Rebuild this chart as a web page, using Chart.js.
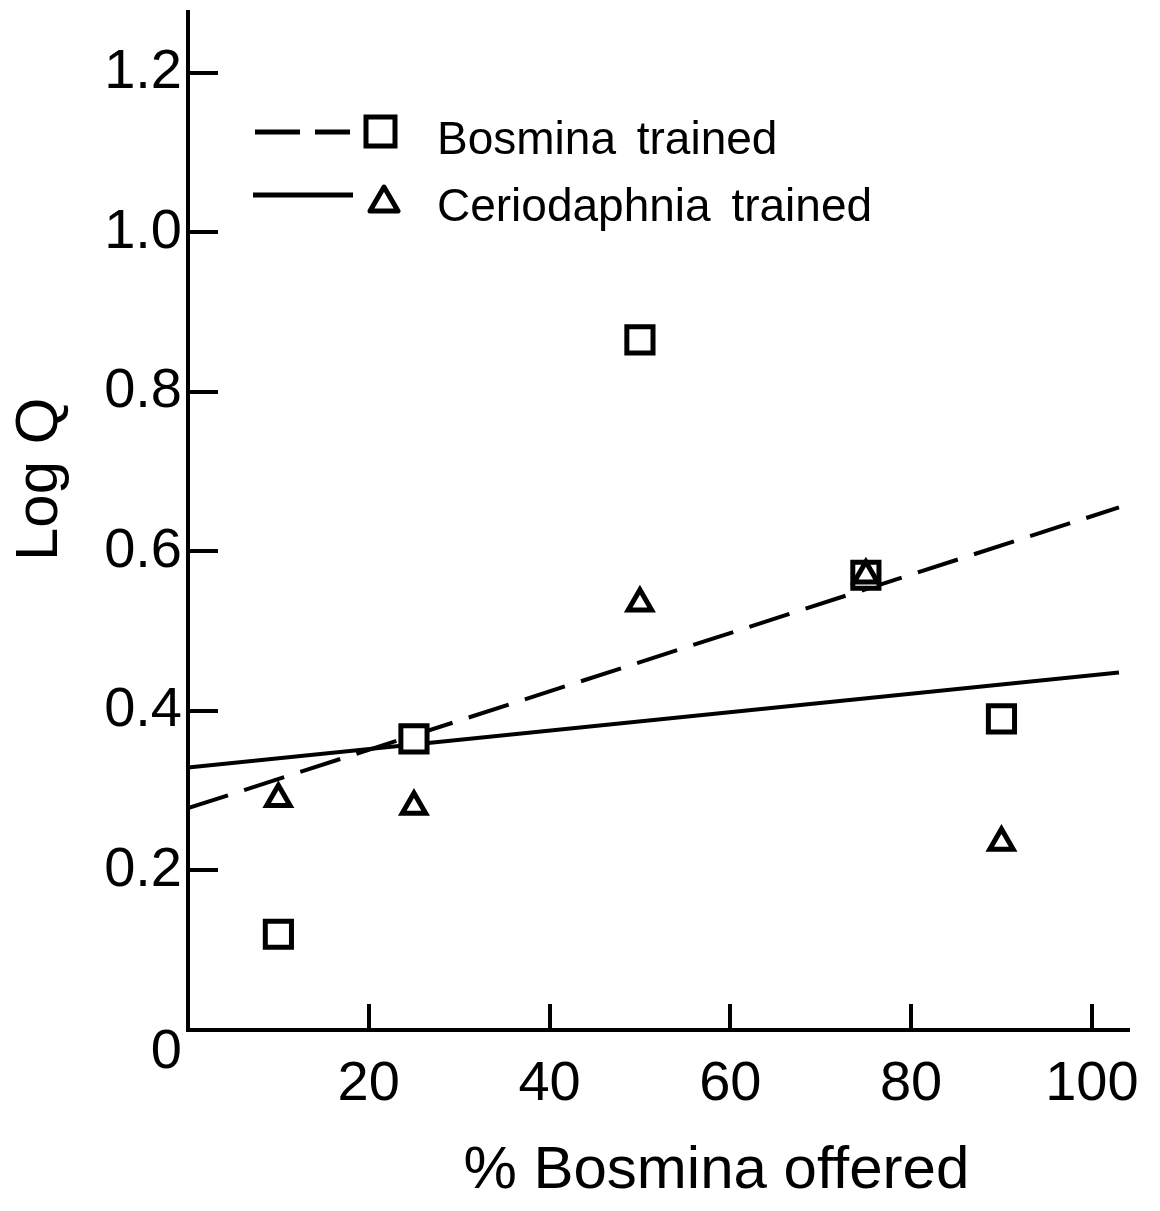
<!DOCTYPE html>
<html>
<head>
<meta charset="utf-8">
<script src="https://cdn.jsdelivr.net/npm/chart.js@4.4.1/dist/chart.umd.min.js"></script>
<style>
  html, body { margin: 0; padding: 0; background: #fff; }
  #wrap { position: relative; width: 1160px; height: 1211px; }
  #chart { position: absolute; left: 0; top: 0; }
  .key { position: absolute; }
  .key-text {
    position: absolute; left: 437px;
    font-family: "Liberation Sans", Arial, sans-serif;
    font-size: 46px; line-height: 1; color: #000;
    white-space: nowrap; word-spacing: 8px;
  }
</style>
</head>
<body>
<div id="wrap">
  <canvas id="chart" width="1160" height="1211"></canvas>

  <!-- legend, drawn over the chart area like in the printed figure -->
  <svg class="key" style="left:250px; top:107px" width="160" height="115">
    <line x1="5" y1="25" x2="100" y2="25" stroke="#000" stroke-width="5" stroke-dasharray="45 15"/>
    <rect x="116" y="10" width="29" height="29" fill="#fff" stroke="#000" stroke-width="5"/>
    <line x1="3" y1="88" x2="103" y2="88" stroke="#000" stroke-width="5"/>
    <polygon points="134,80 148,104 120,104" fill="#fff" stroke="#000" stroke-width="5" stroke-linejoin="round"/>
  </svg>
  <div class="key-text" style="top:115px">Bosmina trained</div>
  <div class="key-text" style="top:182px">Ceriodaphnia trained</div>
</div>

<script>
// % Bosmina offered (x) for each trial
const pctOffered = [10, 25, 50, 75, 90];

// Log Q
const bosminaLogQ = [0.12, 0.365, 0.865, 0.57, 0.39];
const cerioLogQ = [0.29, 0.28, 0.535, 0.57, 0.235];

// fitted regression lines, start and end
const fitX = [0, 103];
const bosminaFit = [0.278, 0.655];
const cerioFit = [0.329, 0.448];

const FONT = "'Liberation Sans', Arial, sans-serif";

function toPoints(xs, ys) {
  return xs.map((x, i) => ({ x: x, y: ys[i] }));
}

new Chart(document.getElementById("chart"), {
  data: {
    datasets: [
      {
        type: "scatter",
        label: "Ceriodaphnia trained",
        data: toPoints(pctOffered, cerioLogQ),
        pointStyle: "triangle",
        pointRadius: 13.5,
        borderWidth: 5,
        borderColor: "#000",
        backgroundColor: "#fff",
        order: 0
      },
      {
        type: "scatter",
        label: "Bosmina trained",
        data: toPoints(pctOffered, bosminaLogQ),
        pointStyle: "rect",
        pointRadius: 18.5,
        borderWidth: 5,
        borderColor: "#000",
        backgroundColor: "#fff",
        order: 1
      },
      {
        type: "line",
        label: "Bosmina fit",
        data: toPoints(fitX, bosminaFit),
        borderColor: "#000",
        borderWidth: 4,
        borderDash: [42, 17],
        pointRadius: 0,
        fill: false,
        order: 2
      },
      {
        type: "line",
        label: "Ceriodaphnia fit",
        data: toPoints(fitX, cerioFit),
        borderColor: "#000",
        borderWidth: 4,
        pointRadius: 0,
        fill: false,
        order: 3
      }
    ]
  },
  options: {
    responsive: false,
    devicePixelRatio: 1,
    animation: false,
    layout: {
      autoPadding: false, // big markers otherwise push the plot down
      padding: { top: 12, right: 32, left: 0, bottom: 0 }
    },
    plugins: {
      legend: { display: false },
      tooltip: { enabled: false }
    },
    scales: {
      x: {
        type: "linear",
        position: "bottom",
        min: 0,
        max: 104,
        border: { display: true, color: "#000", width: 4 },
        grid: { drawOnChartArea: false, drawTicks: true, tickLength: -26, color: "#000", lineWidth: 4 },
        ticks: {
          stepSize: 20,
          includeBounds: false,
          autoSkip: false,
          maxRotation: 0,
          color: "#000",
          padding: 47,
          font: { family: FONT, size: 56 },
          callback: v => (v === 0 ? "" : String(v))
        },
        title: {
          display: true,
          // leading spaces nudge the centred title right, as in the print
          text: "       % Bosmina offered",
          color: "#000",
          font: { family: FONT, size: 60 },
          padding: { top: 0, bottom: 4 }
        },
        afterFit: scale => {
          scale.height = 181;
          // keep the "100" label from pulling the plot inwards
          scale.paddingLeft = 0;
          scale.paddingRight = 0;
        }
      },
      y: {
        type: "linear",
        position: "left",
        min: 0,
        max: 1.276,
        border: { display: true, color: "#000", width: 4 },
        grid: { drawOnChartArea: false, drawTicks: true, tickLength: -30, color: "#000", lineWidth: 4 },
        ticks: {
          stepSize: 0.2,
          includeBounds: false,
          autoSkip: false,
          color: "#000",
          padding: 36,
          font: { family: FONT, size: 56, lineHeight: 0.4 },
          // the origin "0" sits below the corner in the original
          callback: v => (v === 0 ? ["", "", "0"] : v.toFixed(1))
        },
        title: {
          display: true,
          text: "     Log Q",
          color: "#000",
          font: { family: FONT, size: 60 },
          padding: { top: 4, bottom: 0 }
        },
        afterFit: scale => {
          scale.width = 188;
          scale.paddingTop = 0;
          scale.paddingBottom = 0;
        }
      }
    }
  }
});
</script>
</body>
</html>
